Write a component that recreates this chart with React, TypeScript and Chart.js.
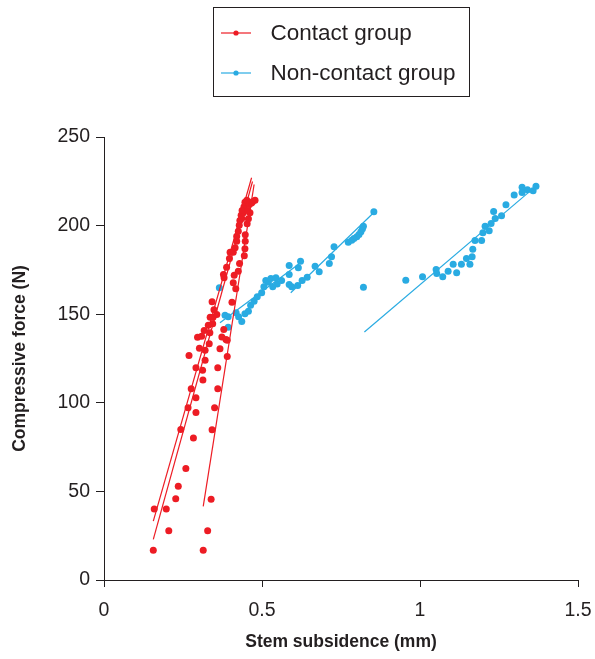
import React, { useEffect, useRef } from "react";
import { Chart, registerables } from "chart.js";

Chart.register(...registerables);

// ---- Data ----
const contactX = [
  0.156, 0.314, 0.205, 0.328, 0.159, 0.197, 0.339, 0.227, 0.235, 0.259,
  0.283, 0.243, 0.342, 0.266, 0.291, 0.350, 0.291, 0.276, 0.360, 0.313,
  0.312, 0.291, 0.360, 0.320, 0.269, 0.390, 0.302, 0.320, 0.367, 0.333,
  0.390, 0.296, 0.309, 0.335, 0.373, 0.386, 0.317, 0.344, 0.330, 0.379,
  0.336, 0.345, 0.357, 0.348, 0.342, 0.405, 0.378, 0.380, 0.388, 0.397,
  0.399, 0.409, 0.415, 0.420, 0.409, 0.412, 0.417, 0.425, 0.429, 0.444,
  0.446, 0.447, 0.447, 0.420, 0.425, 0.428, 0.430, 0.436, 0.434, 0.441,
  0.453, 0.457, 0.462, 0.443, 0.446, 0.452, 0.460, 0.467, 0.478, 0.470,
  0.437, 0.455,
];
const contactY = [
  16.8, 16.8, 27.8, 27.8, 40.0, 40.0, 45.6, 45.8, 52.9, 62.9,
  80.2, 84.9, 84.8, 97.2, 94.5, 97.2, 102.8, 107.9, 107.9, 112.8,
  118.4, 119.8, 119.8, 124.0, 126.7, 126.1, 130.8, 129.7, 130.5, 133.3,
  135.3, 137.0, 137.6, 139.5, 137.2, 135.7, 140.8, 144.6, 143.8, 141.4,
  148.3, 148.3, 149.8, 152.5, 157.0, 156.8, 172.4, 170.5, 176.5, 181.4,
  185.0, 185.0, 187.5, 191.2, 167.7, 172.0, 164.3, 174.3, 178.6, 183.0,
  186.9, 191.2, 194.8, 194.0, 196.8, 200.2, 202.9, 204.0, 205.9, 207.2,
  201.0, 203.8, 207.2, 210.6, 213.2, 214.3, 211.9, 212.8, 214.3, 213.5,
  208.5, 208.5,
];

const nonContactX = [
  0.365, 0.383, 0.393, 0.393, 0.418, 0.426, 0.436, 0.446, 0.457, 0.464,
  0.475, 0.485, 0.499, 0.506, 0.512, 0.520, 0.528, 0.534, 0.544, 0.548,
  0.562, 0.586, 0.586, 0.586, 0.594, 0.615, 0.622, 0.613, 0.627, 0.643,
  0.668, 0.681, 0.713, 0.720, 0.728, 0.773, 0.784, 0.791, 0.800, 0.807,
  0.813, 0.818, 0.821, 0.854, 0.821,
  0.955, 1.008, 1.051, 1.053, 1.072, 1.089, 1.105, 1.116, 1.131, 1.147,
  1.158, 1.165, 1.167, 1.174, 1.195, 1.199, 1.206, 1.219, 1.225, 1.233,
  1.238, 1.258, 1.272, 1.298, 1.323, 1.323, 1.340, 1.358, 1.367,
];
const nonContactY = [
  164.9, 149.4, 148.5, 142.7, 150.8, 148.5, 145.9, 150.2, 151.7, 155.1,
  157.3, 159.8, 162.1, 165.5, 169.0, 168.0, 170.1, 165.5, 170.5, 167.0,
  169.0, 177.5, 172.4, 166.8, 165.5, 176.2, 179.9, 166.2, 169.0, 170.9,
  177.1, 173.9, 178.6, 182.4, 188.0, 190.6, 191.8, 192.7, 193.7, 195.0,
  196.5, 198.2, 199.7, 207.8, 165.2,
  169.2, 171.1, 175.2, 173.0, 171.1, 174.3, 178.2, 173.4, 178.2, 181.4,
  178.2, 182.4, 186.7, 191.6, 191.6, 195.9, 199.7, 197.1, 201.2, 208.0,
  204.0, 205.5, 211.7, 217.2, 221.7, 218.7, 220.2, 219.6, 222.2,
];

// Fitted lines per specimen: [x0, y0, x1, y1]
const contactFits = [
  [0.156, 33.2, 0.467, 227.0],
  [0.156, 22.9, 0.470, 224.9],
  [0.314, 41.6, 0.475, 223.2],
];
const nonContactFits = [
  [0.367, 145.2, 0.623, 179.2],
  [0.591, 162.1, 0.858, 208.1],
  [0.824, 140.0, 1.367, 222.3],
];

const xTicks = [0, 0.5, 1, 1.5];
const yTicks = [0, 50, 100, 150, 200, 250];

const seriesLabels = ["Contact group", "Non-contact group"];
const RED = "#ED1C24";
const BLUE = "#29ABE2";
const INK = "#231F20";
const FONT = '"Liberation Sans", Arial, sans-serif';

function pts(xs: number[], ys: number[]) {
  return xs.map((x, i) => ({ x, y: ys[i] }));
}

function fitDatasets(fits: number[][], color: string) {
  return fits.map((f) => ({
    label: "",
    data: [
      { x: f[0], y: f[1] },
      { x: f[2], y: f[3] },
    ],
    showLine: true,
    borderColor: color,
    borderWidth: 1.2,
    pointRadius: 0,
    pointHoverRadius: 0,
    fill: false,
  }));
}

const boxLegend = {
  id: "boxLegend",
  afterDraw(chart: any) {
    const ctx = chart.ctx;
    ctx.save();
    ctx.strokeStyle = INK;
    ctx.lineWidth = 1;
    ctx.strokeRect(213.5, 7.5, 256, 89);
    const colors = [RED, BLUE];
    seriesLabels.forEach((label, i) => {
      const y = 33 + i * 40;
      ctx.strokeStyle = colors[i];
      ctx.lineWidth = 1.2;
      ctx.beginPath();
      ctx.moveTo(221, y);
      ctx.lineTo(251, y);
      ctx.stroke();
      ctx.fillStyle = colors[i];
      ctx.beginPath();
      ctx.arc(236, y, 2.6, 0, Math.PI * 2);
      ctx.fill();
      ctx.fillStyle = INK;
      ctx.font = `22.5px ${FONT}`;
      ctx.textBaseline = "middle";
      ctx.textAlign = "left";
      ctx.fillText(label, 270.5, y + 0.5);
    });
    ctx.restore();
  },
};

export default function App() {
  const ref = useRef<HTMLCanvasElement | null>(null);

  useEffect(() => {
    if (!ref.current) return;
    const chart = new Chart(ref.current, {
      type: "scatter",
      data: {
        datasets: [
          {
            label: seriesLabels[0],
            data: pts(contactX, contactY),
            backgroundColor: RED,
            borderColor: RED,
            borderWidth: 0,
            pointRadius: 3.5,
          },
          ...fitDatasets(contactFits, RED),
          {
            label: seriesLabels[1],
            data: pts(nonContactX, nonContactY),
            backgroundColor: BLUE,
            borderColor: BLUE,
            borderWidth: 0,
            pointRadius: 3.5,
          },
          ...fitDatasets(nonContactFits, BLUE),
        ] as any,
      },
      options: {
        responsive: false,
        animation: false,
        devicePixelRatio: 1,
        layout: { padding: { top: 137, right: 17, left: 0, bottom: 0 } },
        plugins: {
          legend: { display: false },
          tooltip: { enabled: false },
        },
        scales: {
          x: {
            type: "linear",
            min: 0,
            max: 1.5,
            afterBuildTicks: (s: any) => {
              s.ticks = xTicks.map((v) => ({ value: v }));
            },
            afterFit: (s: any) => {
              s.height = 79;
              s.paddingLeft = 0;
              s.paddingRight = 0;
            },
            grid: {
              drawOnChartArea: false,
              drawTicks: true,
              tickLength: 7,
              color: INK,
              lineWidth: 1,
            },
            border: { display: true, color: INK, width: 1 },
            ticks: {
              color: INK,
              padding: 12,
              font: { family: FONT, size: 19.5 },
              callback: (v: any) => String(v),
              maxRotation: 0,
            },
            title: {
              display: true,
              text: "Stem subsidence (mm)",
              color: INK,
              font: { family: FONT, size: 17.5, weight: "bold" },
              padding: { top: 0, bottom: 6 },
            },
          },
          y: {
            type: "linear",
            min: 0,
            max: 250,
            afterBuildTicks: (s: any) => {
              s.ticks = yTicks.map((v) => ({ value: v }));
            },
            afterFit: (s: any) => {
              s.width = 104;
              s.paddingTop = 0;
              s.paddingBottom = 0;
            },
            grid: {
              drawOnChartArea: false,
              drawTicks: true,
              tickLength: 8,
              color: INK,
              lineWidth: 1,
            },
            border: { display: true, color: INK, width: 1 },
            ticks: {
              color: INK,
              padding: 6,
              font: { family: FONT, size: 19.5 },
              callback: (v: any) => String(v),
            },
            title: {
              display: true,
              text: "Compressive force (N)",
              color: INK,
              font: { family: FONT, size: 17.5, weight: "bold" },
              padding: { top: 10, bottom: 0 },
            },
          },
        },
      } as any,
      plugins: [boxLegend],
    });
    return () => chart.destroy();
  }, []);

  return (
    <div style={{ position: "absolute", left: 0, top: 0, width: 595, height: 659, background: "#fff" }}>
      <canvas ref={ref} width={595} height={659} style={{ width: 595, height: 659, display: "block" }} />
    </div>
  );
}
